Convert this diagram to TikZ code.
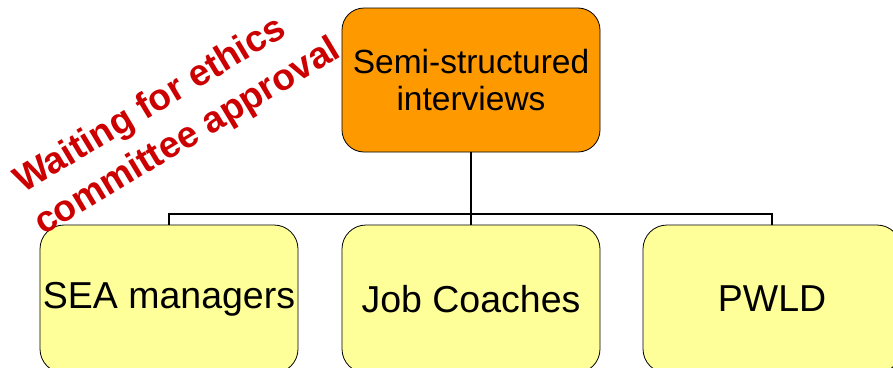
\documentclass[tikz,border=0pt]{standalone}
\usepackage{fontspec}
\setmainfont{Liberation Sans}
\definecolor{boxorange}{HTML}{FF9900}
\definecolor{boxyellow}{HTML}{FFFF99}
\definecolor{notered}{HTML}{CC0000}
\begin{document}
\begin{tikzpicture}[x=1pt,y=-1pt,
  topbox/.style={draw=black, line width=0.8pt, fill=boxorange, rounded corners=22pt,
    minimum width=258pt, minimum height=144pt, align=center, inner sep=0pt,
    font=\fontsize{33.5}{37}\selectfont},
  leafbox/.style={draw=black, line width=0.8pt, fill=boxyellow, rounded corners=24pt,
    minimum width=258pt, minimum height=148pt, align=center, inner sep=0pt,
    font=\fontsize{37.5}{40}\selectfont},
  link/.style={draw=black, line width=2pt},
  note/.style={text=notered, anchor=base west, inner sep=0pt, rotate=31,
    font=\fontsize{37}{40}\selectfont\bfseries}]
\useasboundingbox (0,0) rectangle (893,367);
\begin{scope}
\clip (0,0) rectangle (893,367);
% hierarchy
\node[topbox] (semi) at (471,80) {Semi-structured\\interviews};
\node[leafbox] (sea) at (169,299) {SEA managers};
\node[leafbox] (job) at (471,299) {Job Coaches};
\node[leafbox] (pwld) at (772,299) {PWLD};
\coordinate (hub) at (471,214);
\draw[link] (semi.south) -- (hub);
\draw[link] (hub) -| (sea.north);
\draw[link] (hub) -- (job.north);
\draw[link] (hub) -| (pwld.north);
% status note
\node[note] (wait) at (23,194) {Waiting for ethics};
\node[note] (ethics) at (43,236) {committee approval};
\end{scope}
\end{tikzpicture}
\end{document}
